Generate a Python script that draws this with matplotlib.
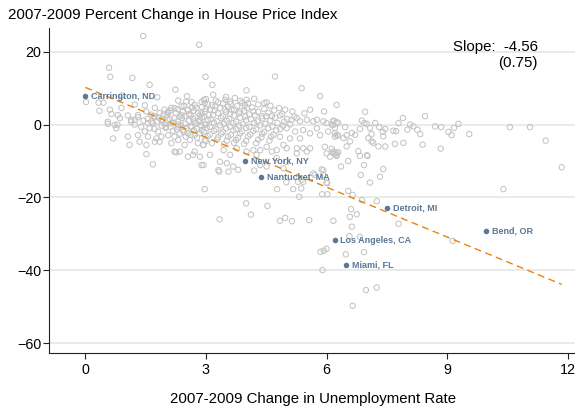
import matplotlib
matplotlib.use('Agg')
import matplotlib.pyplot as plt

plt.rcParams['font.family'] = ['Liberation Sans', 'DejaVu Sans']

title = "2007-2009 Percent Change in House Price Index"
x_label = "2007-2009 Change in Unemployment Rate"
x_ticks = [0, 3, 6, 9, 12]
y_ticks = [-60, -40, -20, 0, 20]
slope_text = "Slope:  -4.56"
se_text = "(0.75)"
fit_intercept = 10.2
fit_slope = -4.56

city_names = ["Carrington, ND", "New York, NY", "Nantucket, MA", "Detroit, MI",
              "Bend, OR", "Los Angeles, CA", "Miami, FL"]
city_unemp = [0.0, 3.97, 4.37, 7.5, 9.97, 6.2, 6.48]
city_hpi = [7.8, -10.0, -14.4, -22.9, -29.2, -31.7, -38.5]

# scattered / outlying counties (unemployment change, house price change)
outer_points = [
    (1.44,24.3),(2.83,21.9),(0.59,15.6),(0.62,13.1),(1.17,12.8),(2.99,13.1),(1.6,10.9),(2.24,9.6),
    (0.02,6.2),(0.33,6.0),(0.45,6.0),(0.91,8.0),(1.79,7.5),(2.53,7.8),(2.31,6.6),(2.64,6.2),(2.89,6.2),
    (0.35,3.8),(0.61,4.1),(0.9,4.6),(1.23,5.5),(1.48,5.3),(1.52,3.6),(1.73,4.6),(1.97,4.1),(0.65,2.9),
    (0.86,1.8),(1.06,2.5),(1.14,1.3),(1.31,2.0),(1.64,2.7),(1.85,3.2),(2.06,3.2),(2.14,4.6),(2.39,5.0),
    (2.55,4.1),(2.76,4.6),(2.97,5.9),(0.56,0.2),(0.8,0.0),(1.23,0.0),(1.56,0.4),(1.89,1.3),(2.22,1.8),
    (2.47,2.3),(2.85,2.5),(2.72,0.9),(2.31,0.0),(2.97,0.0),
    (0.81,2.6),(0.56,0.8),(0.73,-0.1),(0.77,-1.0),(0.69,-3.8),(1.06,-3.3),(1.1,-5.6),(1.31,-2.9),
    (1.35,-4.7),(1.52,-5.6),(1.52,-8.1),(1.68,-10.9),(1.56,-3.3),(1.77,-3.8),(1.73,-4.7),(1.85,-4.7),
    (1.81,-1.9),(1.89,-3.3),(2.06,-2.9),(2.22,-3.3),(2.14,-5.1),(2.31,-4.2),(2.22,-7.4),(2.26,-7.6),
    (2.35,-7.4),(2.47,-5.6),(2.55,-8.8),(2.68,-8.3),(2.72,-7.4),(2.8,-5.1),(2.89,-11.1),(2.93,-5.6),
    (2.85,-8.8),(1.14,0.8),(1.39,-0.6),(1.48,-1.9),(1.6,-1.0),(1.23,1.3),(1.31,2.6),(1.64,0.8),
    (1.73,2.2),(1.93,1.3),(2.01,-0.6),(2.14,0.4),(2.31,-0.6),(2.43,-1.5),(2.55,-2.4),(2.64,-0.6),
    (2.72,-2.9),(2.89,-1.5),(2.97,-4.2),(2.06,3.5),(2.22,4.5),(2.39,2.6),(2.55,4.0),(2.72,5.4),
    (2.89,3.1),(2.85,1.3),(2.51,6.3),
    (3.16,10.9),(3.18,8.2),(4.01,9.4),(4.72,13.2),(5.38,10.0),(5.84,7.8),(4.51,6.1),(4.97,4.1),
    (5.59,4.1),(5.94,3.6),(3.72,7.3),(3.48,6.8),(4.01,6.8),(4.05,5.9),(3.97,5.3),(3.43,5.9),(3.23,5.0),
    (3.1,4.1),(3.48,4.1),(3.64,4.1),(3.85,3.6),(4.18,3.6),(4.39,2.3),(4.64,2.3),(5.13,1.3),(5.34,0.9),
    (5.67,0.9),(5.92,0.9),(6.17,0.9),(5.26,1.8),
    (6.25,5.4),(5.51,1.3),(5.76,1.3),(6.0,0.4),(6.17,-0.1),(5.01,-1.0),(5.22,-1.9),(5.42,-1.5),
    (5.59,-2.4),(5.76,-1.0),(5.84,-2.9),(6.04,-1.9),(6.21,-3.3),(5.34,-3.8),(5.09,-3.8),(4.84,-3.3),
    (4.93,-5.6),(5.01,-6.5),(5.26,-6.5),(5.42,-6.5),(5.51,-7.4),(5.59,-6.5),(5.96,-6.1),(6.17,-7.4),
    (6.0,-7.9),(6.09,-8.8),(6.25,-8.3),(5.92,-12.5),(5.67,-13.4),(4.76,-7.0),(4.64,-7.4),(4.51,-6.1),
    (4.35,-7.0),(4.26,-8.3),(4.18,-7.0),(4.01,-7.4),(3.77,-6.5),(3.6,-8.3),(3.44,-7.0),(3.35,-10.2),
    (3.52,-10.6),(3.68,-11.5),(3.56,-12.9),(3.31,-12.5),(2.94,-11.1),(3.1,-8.3),(2.94,-5.6),(5.01,-10.2),
    (4.93,-12.0),(4.76,-9.2),(5.26,-7.9),(5.92,-13.8),(4.51,-11.5),(4.35,-11.1),
    (2.97,-17.7),(3.33,-12.9),(3.8,-12.4),(4.2,-12.6),(4.77,-17.7),(5.0,-15.8),(5.17,-17.7),(5.32,-19.8),
    (5.37,-17.5),(5.29,-15.7),(5.42,-15.7),(5.71,-13.8),(6.02,-16.1),(5.89,-19.1),(6.02,-19.1),
    (4.0,-21.6),(4.53,-22.3),(4.12,-24.7),(3.34,-26.0),(4.84,-26.4),(4.97,-25.6),(5.14,-26.5),
    (5.57,-26.2),(6.17,-26.4),(5.85,-34.9),(5.93,-34.6),(6.0,-34.1),(5.9,-39.9),(5.88,-12.3),
    (6.0,-15.9),(5.38,-15.2),
    (11.85,-11.7),(10.4,-17.7),(6.54,-18.2),(6.65,-19.3),(6.88,-20.7),(7.25,-21.0),(6.61,-23.2),
    (6.75,-24.6),(6.58,-25.3),(6.63,-28.0),(6.57,-30.6),(6.83,-30.8),(7.79,-27.2),(9.14,-31.9),
    (6.48,-35.6),(6.93,-35.0),(6.98,-45.4),(7.25,-44.7),(6.65,-49.7),(6.36,-11.5),(6.54,-10.0),
    (6.93,-11.1),(6.85,-13.8),(7.08,-15.9),(7.33,-14.3),(7.41,-12.2),(6.25,-8.6),(6.83,-8.6),
    (7.02,-8.6),(6.15,-7.7),
    (6.96,3.5),(6.88,1.1),(6.94,0.4),(7.0,0.2),(7.21,0.4),(7.31,-0.7),(7.46,-1.2),(6.83,-1.2),
    (7.08,-0.9),(7.12,-2.6),(7.04,-3.7),(7.12,-4.6),(7.16,-5.0),(7.29,-6.0),(7.46,-6.0),(7.41,-3.2),
    (7.4,-2.0),(7.66,-1.7),(7.73,-1.8),(7.7,-5.3),(7.91,-5.0),(7.79,0.4),(7.9,1.8),(8.01,-1.4),
    (8.08,0.0),(8.16,-0.5),(8.26,-1.4),(8.33,-2.6),(8.39,-5.5),(8.45,2.3),(8.7,-0.5),(8.85,-0.7),
    (8.84,-6.6),(9.03,-2.0),(9.11,-2.9),(9.17,-0.9),(9.28,0.2),(9.55,-2.6),(10.56,-0.7),(11.06,-0.7),
    (11.45,-4.4),(6.46,-0.7),(6.25,0.7),(6.21,-0.9),(6.5,-2.9),(6.63,-2.3),(6.71,-2.8),(6.42,-3.7),
    (6.25,-2.9),(6.58,-4.6),(6.5,-6.0),(6.25,-7.8),(6.79,-7.3),(7.0,-8.4),(6.13,0.0),
    (6.17,1.1),(6.29,0.4),(6.21,-2.4),(6.29,-3.0),(6.13,-6.6),(6.29,-7.6),(6.2,-8.0),
    (3.0,7.0),(3.25,6.6),(3.5,7.6),(3.85,6.5),(4.2,7.1),(3.6,6.3),(2.95,6.8),(4.45,5.9),
]

# dense core of the cloud
core_points = [
    (3.05,5.6),(3.3,6.1),(3.62,5.7),(3.9,6.0),(4.3,5.5),
    (2.45,5.2),(2.9,4.8),(3.15,5.3),(3.55,4.9),(3.78,5.1),(4.15,4.7),(4.6,5.2),
    (2.3,4.2),(2.65,4.6),(3.0,4.3),(3.35,4.5),(3.7,4.1),(4.02,4.6),(4.45,4.3),(4.82,4.5),
    (2.12,3.9),(2.42,3.5),(2.7,3.8),(2.98,3.6),(3.22,3.9),(3.5,3.4),(3.95,3.8),(4.3,3.5),(4.7,3.9),(5.15,3.6),
    (1.95,2.8),(2.25,3.2),(2.58,2.9),(2.8,3.1),(3.08,2.7),(3.3,3.2),(3.6,2.9),(3.82,3.1),(4.08,2.8),(4.55,3.2),(4.9,2.9),(5.45,3.1),
    (1.7,2.3),(2.02,2.6),(2.35,2.2),(2.62,2.5),(2.95,2.1),(3.18,2.6),(3.42,2.3),(3.7,2.5),(3.98,2.2),(4.22,2.6),(4.5,2.3),(4.85,2.5),(5.2,2.2),
    (1.55,1.6),(1.82,1.9),(2.1,1.5),(2.4,1.8),(2.68,1.6),(2.9,1.9),(3.12,1.5),(3.38,1.8),(3.58,1.6),(3.85,1.9),(4.12,1.5),(4.4,1.7),(4.72,1.9),(5.02,1.5),
    (1.45,1.1),(1.78,0.8),(2.05,1.2),(2.3,0.9),(2.58,1.1),(2.82,0.8),(3.05,1.2),(3.28,0.9),(3.52,1.1),(3.75,0.8),(4.0,1.2),(4.28,0.9),(4.6,1.1),(4.95,0.8),
    (1.68,0.4),(1.98,0.1),(2.2,0.5),(2.48,0.2),(2.75,0.4),(3.0,0.1),(3.2,0.5),(3.45,0.2),(3.68,0.4),(3.92,0.1),(4.2,0.5),(4.48,0.2),(4.78,0.4),(5.1,0.1),
    (1.9,-0.3),(2.12,-0.6),(2.38,-0.2),(2.62,-0.5),(2.88,-0.3),(3.1,-0.6),(3.35,-0.2),(3.6,-0.5),(3.82,-0.3),(4.08,-0.6),(4.35,-0.2),(4.65,-0.5),(4.92,-0.3),
    (1.72,-1.2),(2.0,-0.9),(2.28,-1.3),(2.52,-1.0),(2.78,-1.2),(3.02,-0.9),(3.25,-1.3),(3.5,-1.0),(3.75,-1.2),(4.0,-0.9),(4.25,-1.3),(4.55,-1.0),(4.85,-1.2),
    (2.18,-1.7),(2.45,-2.0),(2.7,-1.6),(2.95,-1.9),(3.2,-1.7),(3.42,-2.0),(3.68,-1.6),(3.9,-1.9),(4.18,-1.7),(4.45,-2.0),(4.75,-1.6),
    (2.35,-2.5),(2.62,-2.8),(2.85,-2.4),(3.1,-2.7),(3.38,-2.5),(3.62,-2.8),(3.85,-2.4),(4.1,-2.7),(4.4,-2.5),(4.68,-2.8),
    (2.5,-3.3),(2.78,-3.6),(3.05,-3.2),(3.3,-3.5),(3.55,-3.3),(3.8,-3.6),(4.05,-3.2),(4.38,-3.5),(4.62,-3.3),
    (2.6,-4.2),(3.0,-4.5),(3.28,-4.1),(3.52,-4.4),(3.75,-4.2),(4.0,-4.5),(4.3,-4.1),(4.58,-4.4),
    (3.15,-5.1),(3.45,-5.4),(3.7,-5.0),(3.95,-5.3),(4.25,-5.1),
]

unemp_change = [p[0] for p in outer_points + core_points]
hpi_change = [p[1] for p in outer_points + core_points]

W, H, DPI = 575, 412, 100
fig = plt.figure(figsize=(W / DPI, H / DPI), dpi=DPI)
ax = fig.add_axes([49 / W, 1 - 353 / H, (575 - 49) / W, (353 - 28) / H])

ax.set_xlim(-0.903, 12.18)
ax.set_ylim(-62.66, 26.5)

for yt in y_ticks:
    ax.axhline(yt, color='#e6e6e6', lw=1.2, zorder=0)

ax.scatter(unemp_change, hpi_change, s=15, facecolors='none', edgecolors='#c4c4c4',
           linewidths=0.75, zorder=2)

all_x = unemp_change + city_unemp
x0, x1 = min(all_x), max(all_x)
ax.plot([x0, x1], [fit_intercept + fit_slope * x0, fit_intercept + fit_slope * x1],
        color='#e8830f', lw=1.0, dashes=(5, 3.2), zorder=3)

ax.scatter(city_unemp, city_hpi, s=16, color='#5b7896', zorder=4, linewidths=0)
for name, cx, cy in zip(city_names, city_unemp, city_hpi):
    ax.annotate(name, (cx, cy), xytext=(4.2, 0), textcoords='offset points',
                va='center', ha='left', fontsize=6.5, fontweight='bold',
                color='#5b7896', zorder=5)

ax.set_xticks(x_ticks)
ax.set_yticks(y_ticks)
ax.tick_params(axis='both', labelsize=10.3, length=4, width=0.8, color='#222222',
               direction='out')
ax.tick_params(axis='y', pad=1.5)
ax.tick_params(axis='x', pad=3.5)

for side in ['top', 'right']:
    ax.spines[side].set_visible(False)
for side in ['left', 'bottom']:
    ax.spines[side].set_color('#222222')
    ax.spines[side].set_linewidth(0.8)

fig.text(8 / W, 1 - 15 / H, title, ha='left', va='center', fontsize=10.9)
fig.text(313 / W, 1 - 399 / H, x_label, ha='center', va='center', fontsize=10.8)
fig.text(538 / W, 1 - 47 / H, slope_text, ha='right', va='center', fontsize=10.8)
fig.text(538 / W, 1 - 63 / H, se_text, ha='right', va='center', fontsize=10.8)

fig.savefig('out.png', dpi=DPI)
